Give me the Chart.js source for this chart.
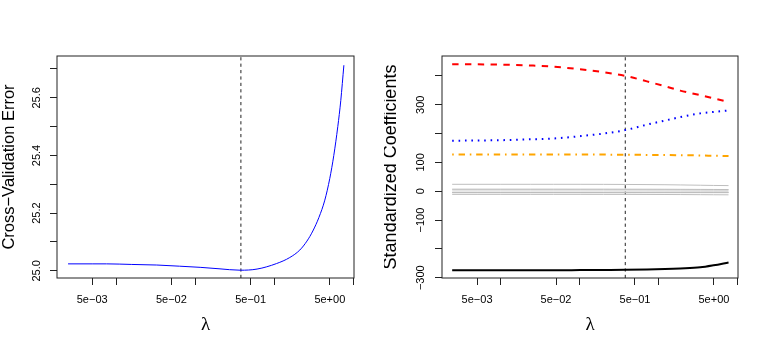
<!DOCTYPE html>
<html>
<head>
<meta charset="utf-8">
<script src="https://cdn.jsdelivr.net/npm/chart.js@4.4.1/dist/chart.umd.min.js"></script>
<style>
  html, body { margin: 0; padding: 0; background: #ffffff; }
  #wrap { position: relative; width: 769px; height: 351px; overflow: hidden; }
  canvas { position: absolute; top: 0; }
  #cv { left: 0; }
  #coef { left: 384px; }
</style>
</head>
<body>
<div id="wrap">
  <canvas id="cv" width="384" height="351"></canvas>
  <canvas id="coef" width="385" height="351"></canvas>
</div>
<script>
// ---------- data ----------
const lambdaCV = [0.00248, 0.0050, 0.0076, 0.0158, 0.0327, 0.0631, 0.1153, 0.1995, 0.370, 0.603, 1.06, 1.56, 2.09, 2.57, 3.05, 3.64, 4.32, 4.99, 5.61, 6.30, 6.87, 7.52];
const cvError  = [25.024, 25.024, 25.024, 25.022, 25.020, 25.016, 25.012, 25.007, 25.002, 25.006, 25.025, 25.046, 25.072, 25.103, 25.138, 25.185, 25.245, 25.320, 25.400, 25.500, 25.590, 25.713];

const lambdaCoef = [0.00242, 0.005, 0.01, 0.0236, 0.0467, 0.101, 0.2, 0.377, 0.71, 1.2, 1.87, 3.36, 4.94, 7.66];
const coefLimit   = [440, 440, 439, 436, 432, 423, 413, 400, 381, 364, 349, 333, 322, 310];
const coefRating  = [175, 176, 177, 180, 183, 191, 200, 212, 231, 245, 257, 270, 275, 280];
const coefStudent = [127, 127, 127, 127, 127, 127, 127, 126.5, 126, 125.5, 125, 124, 123, 122];
const coefIncome  = [-274, -274, -274, -274, -274, -273.5, -273, -272.5, -271.5, -270, -268, -264, -257, -247];
const coefCards     = [24, 24, 24, 24, 24, 24, 23.8, 23.5, 23, 22.5, 21.8, 20.8, 20, 19.5];
const coefAsian     = [7.2, 7.2, 7.2, 7.2, 7.2, 7.1, 7.1, 7, 6.9, 6.8, 6.6, 6.3, 6.1, 5.8];
const coefCaucasian = [4.6, 4.6, 4.6, 4.6, 4.6, 4.6, 4.5, 4.5, 4.4, 4.4, 4.3, 4.2, 4.1, 4.0];
const coefEducation = [-3.4, -3.4, -3.4, -3.4, -3.4, -3.4, -3.4, -3.3, -3.3, -3.2, -3.2, -3.1, -3.0, -3.0];
const coefMarried   = [-4.3, -4.3, -4.3, -4.3, -4.3, -4.3, -4.3, -4.2, -4.2, -4.1, -4.0, -3.9, -3.9, -3.8];
const coefGender    = [-5.2, -5.2, -5.2, -5.2, -5.2, -5.2, -5.2, -5.2, -5.1, -5.1, -5.1, -5.0, -5.0, -5.0];
const coefAge       = [-10.9, -10.9, -10.9, -10.9, -10.9, -10.9, -11.0, -11.0, -11.2, -11.4, -11.6, -12.0, -12.3, -12.5];

const lambdaBest = 0.377;

const xTickValues = [0.005, 0.01, 0.05, 0.1, 0.5, 1, 5, 10];
const xTickLabels = ['5e\u221203', '', '5e\u221202', '', '5e\u221201', '', '5e+00', ''];
const cvTickValues = [25.0, 25.1, 25.2, 25.3, 25.4, 25.5, 25.6, 25.7];
const cvTickLabels = ['25.0', '', '25.2', '', '25.4', '', '25.6', ''];
const coefTickValues = [-300, -200, -100, 0, 100, 200, 300, 400];
const coefTickLabels = ['\u2212300', '', '\u2212100', '0', '100', '', '300', ''];

const xMin = Math.pow(10, -2.745), xMax = Math.pow(10, 1.004);
const cvMin = 24.975, cvMax = 25.745;
const coefMin = -301, coefMax = 469;

// ---------- helpers ----------
Chart.defaults.font.family = "'Liberation Sans', Arial, Helvetica, sans-serif";
Chart.defaults.color = '#000';

const boxPlugin = {
  id: 'box',
  afterDraw(chart) {
    const a = chart.chartArea, ctx = chart.ctx;
    ctx.save();
    ctx.strokeStyle = '#222';
    ctx.lineWidth = 1;
    ctx.strokeRect(a.left, a.top, a.right - a.left, a.bottom - a.top);
    ctx.restore();
  }
};

function pts(xs, ys) { return xs.map((x, i) => ({ x: x, y: ys[i] })); }

function line(data, color, width, dash) {
  return {
    data: data, borderColor: color, borderWidth: width, borderDash: dash || [],
    borderCapStyle: 'butt', pointRadius: 0, fill: false,
    cubicInterpolationMode: 'monotone'
  };
}

function vline(yMin, yMax) {
  return {
    data: [{ x: lambdaBest, y: yMin }, { x: lambdaBest, y: yMax }],
    borderColor: '#222', borderWidth: 1, borderDash: [3.2, 3.2],
    pointRadius: 0, fill: false, tension: 0
  };
}

function xScale() {
  return {
    type: 'logarithmic', min: xMin, max: xMax,
    afterBuildTicks(s) { s.ticks = xTickValues.map(v => ({ value: v })); },
    afterFit(s) { s.height = 73; },
    grid: { display: true, drawOnChartArea: false, drawTicks: true, tickLength: 7, color: '#222', lineWidth: 1 },
    border: { display: false },
    ticks: {
      autoSkip: false, maxRotation: 0, minRotation: 0, padding: 8,
      font: { size: 11 },
      callback: (v, i) => xTickLabels[i]
    },
    title: {
      display: true, text: '\u03bb',
      font: { family: "'Liberation Serif', 'DejaVu Serif', serif", size: 19, lineHeight: 1 },
      padding: { top: 0, bottom: 16 }
    }
  };
}

function yScale(min, max, vals, labels, width, pad, title, titleSize, titlePad) {
  return {
    type: 'linear', min: min, max: max,
    afterBuildTicks(s) { s.ticks = vals.map(v => ({ value: v })); },
    afterFit(s) { s.width = width; },
    grid: { display: true, drawOnChartArea: false, drawTicks: true, tickLength: 7, color: '#222', lineWidth: 1 },
    border: { display: false },
    ticks: {
      autoSkip: false, minRotation: 90, maxRotation: 90, crossAlign: 'center', padding: pad,
      font: { size: 11 },
      callback: (v, i) => labels[i]
    },
    title: {
      display: true, text: title,
      font: { size: titleSize, lineHeight: 0.72 },
      padding: { top: titlePad, bottom: 0 }
    }
  };
}

const common = {
  responsive: false, animation: false, devicePixelRatio: 1,
  plugins: { legend: { display: false }, tooltip: { enabled: false } },
  elements: { line: { borderJoinStyle: 'round' } }
};

// ---------- left: CV error ----------
new Chart(document.getElementById('cv'), {
  type: 'line',
  data: {
    datasets: [
      line(pts(lambdaCV, cvError), '#0000ff', 1),
      vline(cvMin, cvMax)
    ]
  },
  options: Object.assign({}, common, {
    layout: { padding: { left: 0, right: 30, top: 56, bottom: 0 } },
    scales: {
      x: xScale(),
      y: yScale(cvMin, cvMax, cvTickValues, cvTickLabels, 57, 2, 'Cross\u2212Validation Error', 16.5, 3.5)
    }
  }),
  plugins: [boxPlugin]
});

// ---------- right: coefficients ----------
const gray = 'rgb(190,190,190)';
new Chart(document.getElementById('coef'), {
  type: 'line',
  data: {
    datasets: [
      line(pts(lambdaCoef, coefCards), gray, 1),
      line(pts(lambdaCoef, coefAsian), gray, 1),
      line(pts(lambdaCoef, coefCaucasian), gray, 1),
      line(pts(lambdaCoef, coefEducation), gray, 1),
      line(pts(lambdaCoef, coefMarried), gray, 1),
      line(pts(lambdaCoef, coefGender), gray, 1),
      line(pts(lambdaCoef, coefAge), gray, 1),
      line(pts(lambdaCoef, coefIncome), '#000000', 2),
      line(pts(lambdaCoef, coefLimit), '#ff0000', 2, [6.4, 6.4]),
      line(pts(lambdaCoef, coefRating), '#0000ff', 2, [1.6, 4.8]),
      line(pts(lambdaCoef, coefStudent), '#ffa500', 2, [1.6, 4.8, 6.4, 4.8]),
      vline(coefMin, coefMax)
    ]
  },
  options: Object.assign({}, common, {
    layout: { padding: { left: 0, right: 31, top: 56, bottom: 0 } },
    scales: {
      x: xScale(),
      y: yScale(coefMin, coefMax, coefTickValues, coefTickLabels, 58, 1.5, 'Standardized Coefficients', 18, 1)
    }
  }),
  plugins: [boxPlugin]
});
</script>
</body>
</html>
